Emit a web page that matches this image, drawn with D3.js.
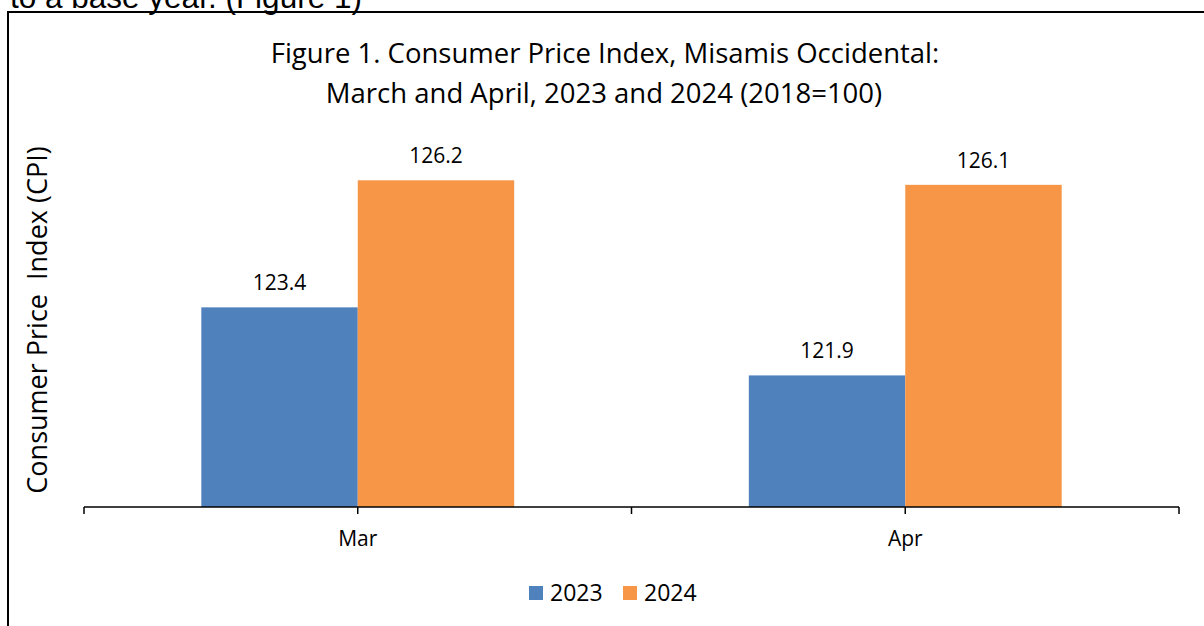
<!DOCTYPE html>
<html lang="en">
<head>
  <meta charset="UTF-8">
  <title>Consumer Price Index, Misamis Occidental</title>
  <script src="https://d3js.org/d3.v7.min.js"></script>
  <style>
    body {
      margin: 0;
      background: #fff;
    }
    text {
      font-family: "Open Sans", sans-serif;
      fill: #000;
    }
  </style>
</head>
<body>
  <script>
    // Data
    const months = ["Mar", "Apr"];
    const years = ["2023", "2024"];
    const cpi2023 = [123.4, 121.9];
    const cpi2024 = [126.2, 126.1];
    const colors = ["#4F81BD", "#F79646"];

    const width = 1204;
    const height = 626;

    // rows built from the arrays above
    const rows = months.map((m, i) => ({ month: m, values: [cpi2023[i], cpi2024[i]] }));

    const svg = d3.select("body")
      .append("svg")
      .attr("width", width)
      .attr("height", height);

    // text from the page above the chart, cut off at the top as in the source
    svg.append("text")
      .attr("x", 10)
      .attr("y", 8)
      .style("font-family", "'Liberation Sans', Arial, sans-serif")
      .style("font-size", "31.5px")
      .text("to a base year. (Figure 1)");

    // chart frame
    svg.append("rect")
      .attr("x", 8)
      .attr("y", 12)
      .attr("width", 1300)
      .attr("height", 800)
      .attr("fill", "none")
      .attr("stroke", "#000")
      .attr("stroke-width", 2);

    // title
    const title = svg.append("text")
      .attr("text-anchor", "middle")
      .style("font-size", "27.5px");
    title.append("tspan").attr("x", 605).attr("y", 63)
      .text("Figure 1. Consumer Price Index, Misamis Occidental:");
    title.append("tspan").attr("x", 604).attr("y", 103)
      .text("March and April, 2023 and 2024 (2018=100)");

    // scales
    const x0 = d3.scaleBand()
      .domain(months)
      .range([84, 1179]);

    // gap width 150% of a bar
    const barW = x0.bandwidth() / 3.5;
    const x1 = d3.scaleBand()
      .domain(years)
      .range([x0.bandwidth() / 2 - barW, x0.bandwidth() / 2 + barW]);

    const y = d3.scaleLinear()
      .domain([119, 127])
      .range([507, 144]);

    // bars
    const groups = svg.selectAll("g.month")
      .data(rows)
      .join("g")
      .attr("class", "month")
      .attr("transform", d => `translate(${x0(d.month)},0)`);

    groups.selectAll("rect")
      .data(d => d.values.map((v, i) => ({ year: years[i], value: v, i })))
      .join("rect")
      .attr("x", d => x1(d.year))
      .attr("y", d => y(d.value))
      .attr("width", x1.bandwidth())
      .attr("height", d => y(y.domain()[0]) - y(d.value))
      .attr("fill", d => colors[d.i]);

    // value labels
    groups.selectAll("text.val")
      .data(d => d.values.map((v, i) => ({ year: years[i], value: v })))
      .join("text")
      .attr("class", "val")
      .attr("x", d => x1(d.year) + x1.bandwidth() / 2)
      .attr("y", d => y(d.value) - 17)
      .attr("text-anchor", "middle")
      .style("font-size", "21px")
      .text(d => d3.format(".1f")(d.value));

    // category axis: ticks at band edges and centres
    const axisY = y(y.domain()[0]);
    svg.append("line")
      .attr("x1", x0.range()[0])
      .attr("x2", x0.range()[1])
      .attr("y1", axisY)
      .attr("y2", axisY)
      .attr("stroke", "#000")
      .attr("stroke-width", 1.5);

    const tickXs = [x0.range()[0]];
    months.forEach(m => {
      tickXs.push(x0(m) + x0.bandwidth() / 2);
      tickXs.push(x0(m) + x0.bandwidth());
    });
    svg.selectAll("line.tick")
      .data(tickXs)
      .join("line")
      .attr("class", "tick")
      .attr("x1", d => d)
      .attr("x2", d => d)
      .attr("y1", axisY)
      .attr("y2", axisY + 7)
      .attr("stroke", "#000")
      .attr("stroke-width", 1.5);

    svg.selectAll("text.cat")
      .data(months)
      .join("text")
      .attr("class", "cat")
      .attr("x", d => x0(d) + x0.bandwidth() / 2)
      .attr("y", 546)
      .attr("text-anchor", "middle")
      .style("font-size", "21px")
      .text(d => d);

    // y axis title
    svg.append("text")
      .attr("transform", "translate(47,320) rotate(-90)")
      .attr("text-anchor", "middle")
      .style("font-size", "27px")
      .text("Consumer Price\u00a0 Index (CPI)");

    // legend
    const legendX = [529, 623];
    const legend = svg.selectAll("g.legend")
      .data(years)
      .join("g")
      .attr("class", "legend")
      .attr("transform", (d, i) => `translate(${legendX[i]},586)`);
    legend.append("rect")
      .attr("width", 14)
      .attr("height", 14)
      .attr("fill", (d, i) => colors[i]);
    legend.append("text")
      .attr("x", 21)
      .attr("y", 15)
      .style("font-size", "23px")
      .text(d => d);
  </script>
</body>
</html>
